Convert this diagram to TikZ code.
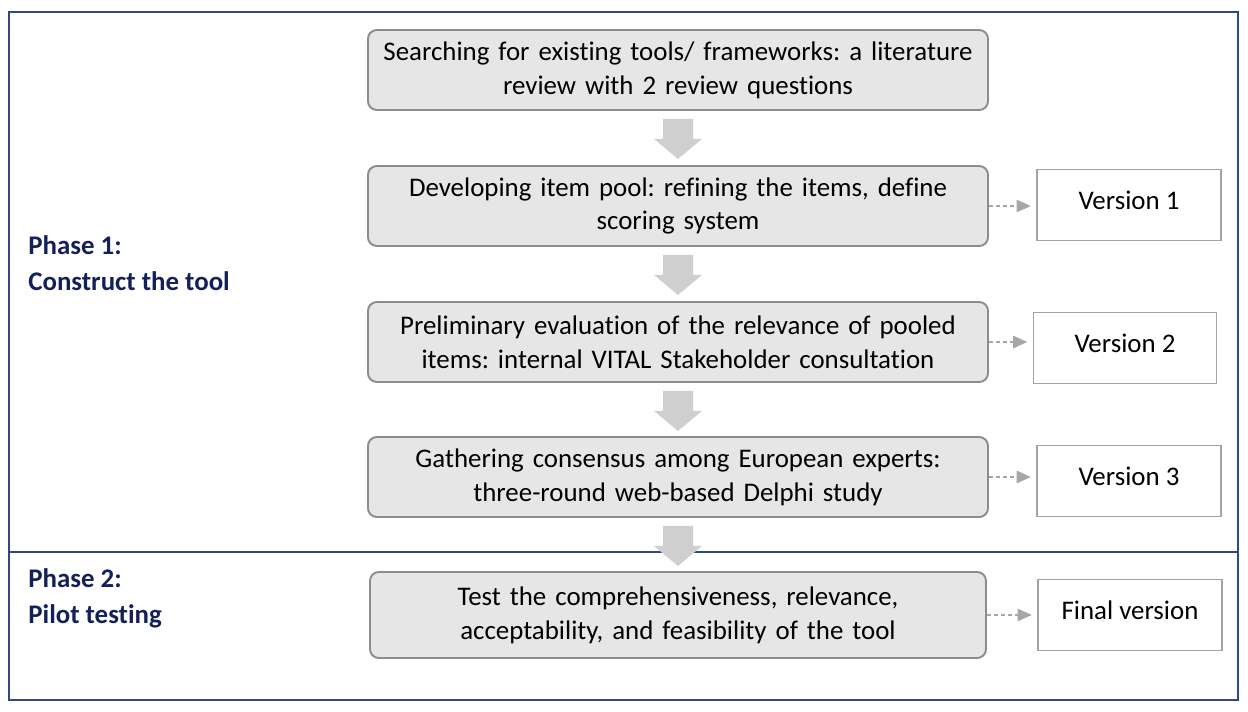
\documentclass[tikz,border=0pt]{standalone}
\usepackage{fontspec}
\setmainfont{Carlito}[Ligatures=NoCommon]
\usepackage{xcolor}
\usepackage{tikz}
\usetikzlibrary{calc, arrows.meta}
\frenchspacing
\definecolor{framenavy}{HTML}{2E4A86}
\definecolor{phasenavy}{HTML}{14205A}
\definecolor{boxfill}{HTML}{E6E6E6}
\definecolor{boxline}{HTML}{8C8C8C}
\definecolor{verline}{HTML}{A3A3A3}
\definecolor{blockgray}{HTML}{CFCFCF}
\definecolor{dashgray}{HTML}{A6A6A6}
\tikzset{
  stepbox/.style={
    draw=boxline, fill=boxfill, line width=1.1pt, rounded corners=5pt,
    minimum width=620*0.02cm, minimum height=80*0.02cm,
    text width=600*0.02cm, align=center, inner sep=0pt
  },
  versionbox/.style={
    draw=verline, fill=white, line width=1.1pt,
    minimum width=184*0.02cm, minimum height=71*0.02cm, inner sep=0pt,
    text depth=5pt
  },
  phaselabel/.style={
    anchor=west, align=left, text=phasenavy, inner sep=0pt,
    font=\bfseries\fontsize{15.3}{20.5}\selectfont
  },
  ->-/.style={
    draw=dashgray, line width=0.9pt, dash pattern=on 2.5pt off 1.5pt,
    -{Triangle[length=8pt, width=7pt, fill=dashgray]}, shorten >=3pt
  }
}

\begin{document}
\begin{tikzpicture}[x=0.02cm, y=-0.02cm, every node/.style={font=\fontsize{15.3}{19.3}\selectfont}]
\useasboundingbox (0,0) rectangle (1248,712);
\newcommand\BlockArrow[1]{%
  \fill[blockgray] (#1.south) ++(-15,8) -- ++(30,0) -- ++(0,20) -- ++(9,0)
    -- ++(-24,20) -- ++(-24,-20) -- ++(9,0) -- cycle;}

% frame and phase divider
\draw[framenavy, line width=1.2pt] (9,12) rectangle (1238,700);
\draw[framenavy, line width=1.2pt] (9,552) -- (1238,552);

% phase labels
\node[phaselabel] (P1) at (28,263) {Phase 1:\\Construct the tool};
\node[phaselabel] (P2) at (28,598) {Phase 2:\\Pilot testing};

% steps
\node[stepbox] (B1) at (678,70) {Searching for existing tools/ frameworks: a literature\\review with 2 review questions};
\node[stepbox] (B2) at (678,206) {Developing item pool: refining the items, define\\scoring system};
\node[stepbox] (B3) at (678,342) {Preliminary evaluation of the relevance of pooled\\items: internal VITAL Stakeholder consultation};
\node[stepbox] (B4) at (678,477) {Gathering consensus among European experts:\\three-round web-based Delphi study};
\node[stepbox, minimum width=616*0.02cm, minimum height=86*0.02cm] (B5) at (678,615) {Test the comprehensiveness, relevance,\\acceptability, and feasibility of the tool};

% versions
\node[versionbox] (V1) at (1129,205) {Version 1};
\node[versionbox, minimum width=183*0.02cm] (V2) at (1125,348) {Version 2};
\node[versionbox] (V3) at (1129,481) {Version 3};
\node[versionbox] (V4) at (1130,615) {Final version};

% block arrows between steps
\BlockArrow{B1}
\BlockArrow{B2}
\BlockArrow{B3}
\BlockArrow{B4}

% dashed links to versions
\draw[->-] (B2.east) -- (B2.east -| V1.west);
\draw[->-] (B3.east) -- (B3.east -| V2.west);
\draw[->-] (B4.east) -- (B4.east -| V3.west);
\draw[->-] (B5.east) -- (B5.east -| V4.west);
\end{tikzpicture}
\end{document}
